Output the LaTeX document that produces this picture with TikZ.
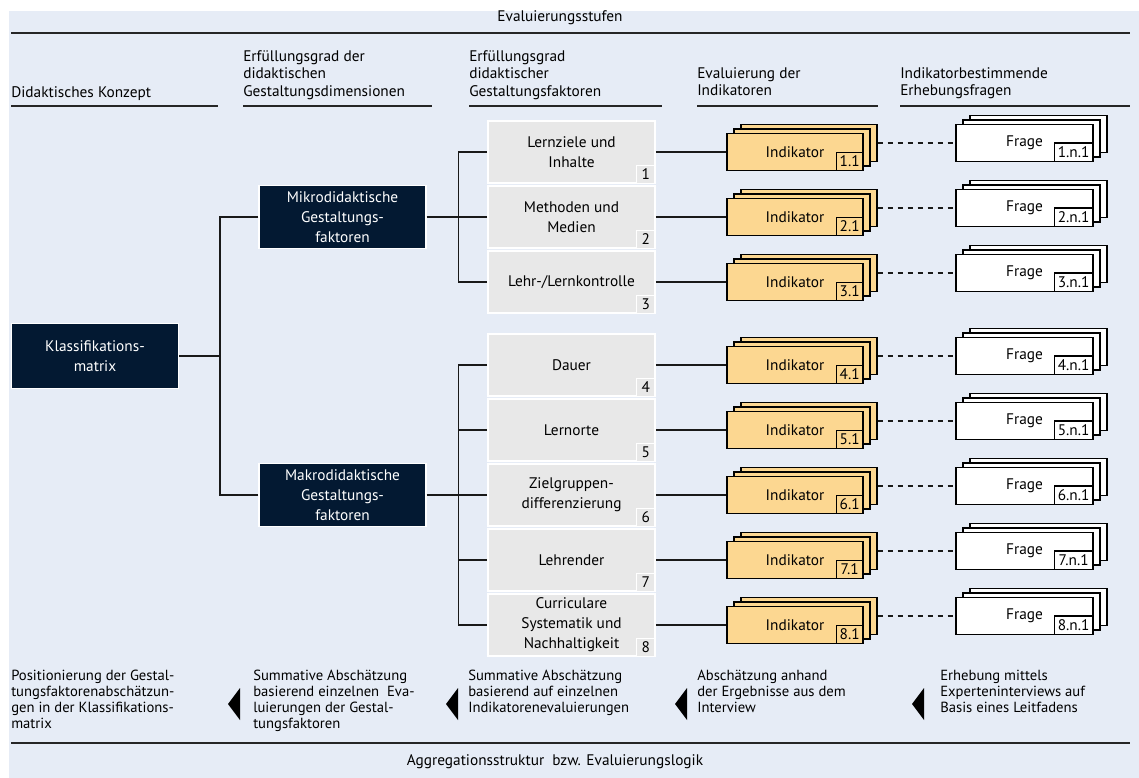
\documentclass[tikz,border=0pt]{standalone}
\usepackage{fontspec}
\setmainfont{PT Sans}
\usetikzlibrary{positioning,calc}
\definecolor{evalbg}{RGB}{230,236,246}
\definecolor{navy}{RGB}{3,25,50}
\definecolor{factorgrey}{RGB}{232,232,232}
\definecolor{indorange}{RGB}{252,215,145}

\begin{document}
\begin{tikzpicture}[x=0.75pt, y=-0.75pt,
    every node/.style={font=\fontsize{11.5}{13}\selectfont},
    rule/.style={line width=1.2pt, draw=black!85},
    link/.style={line width=1.1pt, draw=black!90},
    head/.style={anchor=north west, align=left, inner sep=0pt, font=\fontsize{11.5}{13.1}\selectfont},
    note/.style={anchor=north west, align=left, inner sep=0pt, font=\fontsize{11}{12}\selectfont},
    dimbox/.style={rectangle, draw=white, line width=1.2pt, fill=navy, text=white, align=center,
                   minimum width=125pt, minimum height=47.5pt, inner ysep=1pt, font=\fontsize{11.5}{15}\selectfont},
    factorbox/.style={rectangle, draw=white, line width=1.5pt, fill=factorgrey, align=center,
                      minimum width=125pt, minimum height=47pt, inner ysep=1pt, font=\fontsize{11.5}{15}\selectfont},
    factortag/.style={rectangle, draw=white, line width=1.2pt, fill=factorgrey, anchor=south east,
                      minimum width=14pt, minimum height=13.5pt, inner sep=0pt},
    indbox/.style={rectangle, draw=black, line width=1pt, fill=indorange, minimum width=102pt, minimum height=27.75pt},
    indtag/.style={rectangle, draw=black, line width=1pt, fill=indorange, anchor=south east,
                   minimum width=20pt, minimum height=13.5pt, inner sep=0pt},
    fragebox/.style={rectangle, draw=black, line width=1pt, fill=white, minimum width=102.75pt, minimum height=27.75pt},
    fragetag/.style={rectangle, draw=black, line width=1pt, fill=white, anchor=south east,
                     minimum width=29pt, minimum height=14pt, inner sep=0pt}
]
\useasboundingbox (0,0) rectangle (1139,778);
\fill[evalbg] (9,11) rectangle (1139,778);

% stages on top
\node (stages) at (560,18) {Evaluierungsstufen};
\draw[rule] (11,33) -- (1130,33);
\node[head] (hconcept) at (11,86) {Didaktisches Konzept};
\node[head] (hdims) at (243,50) {Erfüllungsgrad der\\didaktischen\\Gestaltungsdimensionen};
\node[head] (hfactors) at (469,50) {Erfüllungsgrad\\didaktischer\\Gestaltungsfaktoren};
\node[head] (hind) at (697,67) {Evaluierung der\\Indikatoren};
\node[head] (hquest) at (900,67) {Indikatorbestimmende\\Erhebungsfragen};
\draw[rule] (11,106) -- (218,106);
\draw[rule] (243,106) -- (432,106);
\draw[rule] (469,106) -- (662,106);
\draw[rule] (697,106) -- (878,106);
\draw[rule] (900,106) -- (1130,106);

% concept and dimensions
\node[dimbox, minimum height=48.75pt] (klass) at (95,356) {Klassifikations-\\matrix};
\node[dimbox] (mikro) at (342.5,217) {Mikrodidaktische\\Gestaltungs-\\faktoren};
\node[dimbox] (makro) at (342.5,495) {Makrodidaktische\\Gestaltungs-\\faktoren};

% factors, indicators and questions
\foreach \i/\y/\txt in {1/152/{Lernziele und\\Inhalte}, 2/217/{Methoden und\\Medien},
    3/282/{Lehr-/Lernkontrolle}, 4/365/{Dauer}, 5/430/{Lernorte},
    6/495/{Zielgruppen-\\differenzierung}, 7/560/{Lehrender},
    8/625/{Curriculare\\Systematik und\\Nachhaltigkeit}} {
  \node[factorbox] (f\i) at (571.5,\y) {\txt};
  \node[factortag] at (f\i.south east) {\i};
  \node[indbox] (indb\i) at (809,\y-9) {};
  \node[indbox] (indm\i) at (802,\y-4.5) {};
  \node[indbox] (ind\i) at (795,\y) {Indikator};
  \node[indtag] at (ind\i.south east) {\i.1};
  \node[fragebox] (frb\i) at (1038.5,\y-18) {};
  \node[fragebox] (frm\i) at (1031.5,\y-13.5) {};
  \node[fragebox] (frage\i) at (1024.5,\y-9) {Frage};
  \node[fragetag] at (frage\i.south east) {\i.n.1};
  \draw[link] (f\i.east) -- (ind\i.west);
  \draw[link, dash pattern=on 4pt off 3.5pt] (indb\i.east) -- (frage\i.west);
}

% tree connectors
\draw[link] (klass.east) -- ++(41,0) coordinate (kbr);
\draw[link] (mikro.west) -| (kbr);
\draw[link] (makro.west) -| (kbr);
\draw[link] (mikro.east) -- ++(32,0) coordinate (mbr);
\draw[link] (f2.west) -- (mbr);
\foreach \j in {1,3} \draw[link] (f\j.west) -| (mbr);
\draw[link] (makro.east) -- ++(32,0) coordinate (abr);
\draw[link] (f6.west) -- (abr);
\foreach \j in {4,5,7,8} \draw[link] (f\j.west) -| (abr);

% aggregation logic below
\node[note] (scol1) at (11,670) {Positionierung der Gestal-\\tungsfaktorenabschätzun-\\gen in der Klassifikations-\\matrix};
\node[note] (scol2) at (253,670) {Summative Abschätzung\\basierend einzelnen\ \ Eva-\\luierungen der Gestal-\\tungsfaktoren};
\node[note] (scol3) at (468,670) {Summative Abschätzung\\basierend auf einzelnen\\Indikatorenevaluierungen};
\node[note] (scol4) at (697,670) {Abschätzung anhand\\der Ergebnisse aus dem\\Interview};
\node[note] (scol5) at (940,670) {Erhebung mittels\\Experteninterviews auf\\Basis eines Leitfadens};
\foreach \tx in {228,446,675,912}
  \fill (\tx,704) -- (\tx+12,688) -- (\tx+12,720) -- cycle;
\draw[rule] (11,743) -- (1130,743);
\node (logic) at (555,762) {Aggregationsstruktur~ bzw. Evaluierungslogik};
\end{tikzpicture}
\end{document}
